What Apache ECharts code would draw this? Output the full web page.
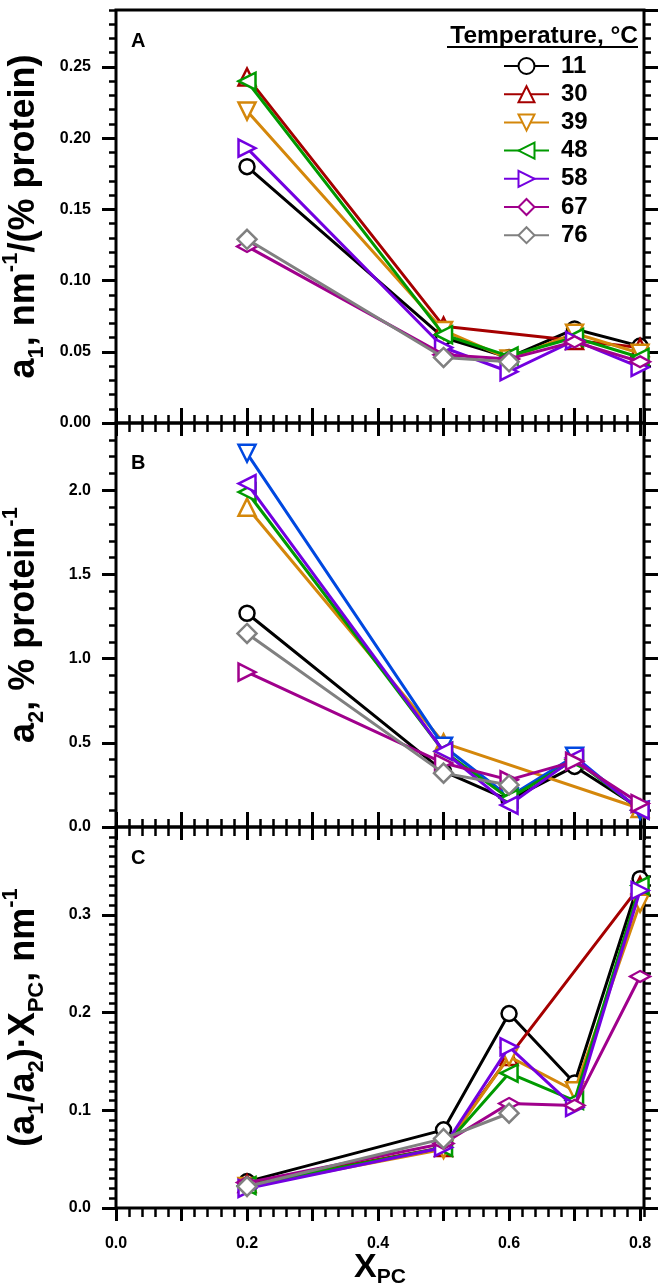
<!DOCTYPE html>
<html lang="en">
<head>
<meta charset="UTF-8">
<title>a1, a2 vs XPC</title>
<style>
  html, body { margin: 0; padding: 0; background: #fff; }
  #container { width: 661px; height: 1288px; }
</style>
</head>
<body>
<div id="container"></div>
<script src="https://cdn.jsdelivr.net/npm/echarts@6/dist/echarts.min.js"></script>
<script>
    var FONT = '"Liberation Sans", Arial, Helvetica, sans-serif';

    var xValues = [0.2, 0.5, 0.6, 0.7, 0.8];
    var temperatures = ['11', '30', '39', '48', '58', '67', '76'];

    // panel A: a1, nm^-1/(% protein)  (one row per temperature)
    var a1Values = [
        [0.180, 0.060, 0.046, 0.066, 0.054],
        [0.243, 0.068, null, 0.058, 0.053],
        [0.219, 0.065, 0.045, 0.063, 0.049],
        [0.240, 0.062, 0.047, 0.060, 0.046],
        [0.193, 0.053, 0.036, 0.058, 0.039],
        [0.124, 0.048, 0.045, 0.057, 0.043],
        [0.129, 0.046, 0.043, null, null]
    ];
    // panel B: a2, % protein^-1
    var a2Values = [
        [1.27, 0.33, 0.16, 0.36, 0.11],
        [1.90, 0.50, null, null, 0.11],
        [2.22, 0.48, 0.18, 0.42, 0.10],
        [1.99, 0.45, 0.17, 0.40, 0.10],
        [2.04, 0.45, 0.13, 0.41, 0.10],
        [0.92, 0.38, 0.28, 0.39, 0.14],
        [1.15, 0.32, 0.25, null, null]
    ];
    // panel C: (a1/a2)*XPC, nm^-1
    var ratioValues = [
        [0.027, 0.080, 0.199, 0.128, 0.337],
        [0.025, 0.062, 0.155, null, 0.330],
        [0.022, 0.060, 0.155, 0.120, 0.312],
        [0.023, 0.062, 0.138, 0.110, 0.330],
        [0.020, 0.062, 0.165, 0.103, 0.325],
        [0.026, 0.066, 0.107, 0.105, 0.237],
        [0.022, 0.071, 0.097, null, null]
    ];

    var colorsA = ['#000000', '#a50000', '#d4870b', '#009a00', '#7300e0', '#a0008c', '#808080'];
    var colorsB = ['#000000', '#d4870b', '#0048e0', '#009a00', '#7300e0', '#a0008c', '#808080'];
    var colorsC = colorsA;
    var symbolsA = ['circle', 'up', 'down', 'left', 'right', 'thin', 'diamond'];
    var symbolsB = ['circle', 'up', 'down', 'left', 'left', 'right', 'diamond'];
    var symbolsC = symbolsA;

    var shapes = {
        circle: { symbol: 'circle', rotate: 0, size: 15 },
        up: { symbol: 'triangle', rotate: 0, size: 17 },
        down: { symbol: 'triangle', rotate: 180, size: 17 },
        left: { symbol: 'triangle', rotate: 90, size: 17 },
        right: { symbol: 'triangle', rotate: -90, size: 17 },
        thin: { symbol: 'diamond', rotate: 0, size: [20, 11] },
        diamond: { symbol: 'diamond', rotate: 0, size: 19 }
    };

    var nameRich = {
        m: { fontFamily: FONT, fontWeight: 'bold', fontSize: 36, lineHeight: 48, color: '#000' },
        sub: { fontFamily: FONT, fontWeight: 'bold', fontSize: 22, lineHeight: 28, verticalAlign: 'bottom', color: '#000' },
        sup: { fontFamily: FONT, fontWeight: 'bold', fontSize: 22, lineHeight: 24, verticalAlign: 'top', color: '#000' }
    };

    var panels = [
        { top: 10, height: 413, ymax: 0.29, major: 0.05, minor: 0.01, digits: 2, values: a1Values,
          colors: colorsA, symbols: symbolsA,
          name: '{m|a}{sub|1}{m|, nm}{sup|-1}{m|/(% protein)}' },
        { top: 423, height: 404, ymax: 2.4, major: 0.5, minor: 0.1, digits: 1, values: a2Values,
          colors: colorsB, symbols: symbolsB,
          name: '{m|a}{sub|2}{m|, % protein}{sup|-1}' },
        { top: 827, height: 381, ymax: 0.39, major: 0.1, minor: 0.01, digits: 1, values: ratioValues,
          colors: colorsC, symbols: symbolsC,
          name: '{m|(a}{sub|1}{m|/a}{sub|2}{m|)·X}{sub|PC}{m|, nm}{sup|-1}' }
    ];

    var XMAX = 0.806;

    function blankLabel() {
        return { show: true, color: 'rgba(0,0,0,0)', fontSize: 8, formatter: function () { return ''; } };
    }

    // tick-only axes (major and minor ticks are separate axes)
    function xTicks(gi, pos, step, len, width) {
        return {
            type: 'value', gridIndex: gi, position: pos, min: 0, max: XMAX, interval: step,
            axisLine: { show: false, onZero: false },
            splitLine: { show: false },
            axisTick: { show: true, inside: false, length: len, lineStyle: { color: '#000', width: width } },
            axisLabel: blankLabel()
        };
    }

    function yTicks(gi, pos, p, step, len, width) {
        return {
            type: 'value', gridIndex: gi, position: pos, min: 0, max: p.ymax, interval: step,
            axisLine: { show: false, onZero: false },
            splitLine: { show: false },
            axisTick: { show: true, inside: false, length: len, lineStyle: { color: '#000', width: width } },
            axisLabel: blankLabel()
        };
    }

    var grids = [], xAxes = [], yAxes = [], series = [];

    panels.forEach(function (p, pi) {
        grids.push({
            left: 116, right: 17, top: p.top, height: p.height,
            show: true, borderColor: '#000', borderWidth: 3,
            outerBoundsMode: 'none'
        });

        var xMain = xAxes.length;
        var xm = xTicks(pi, 'bottom', 0.1, 13, 3);
        if (pi === 2) {
            xm.axisLabel = {
                show: true, margin: 28, color: '#000', fontFamily: FONT, fontWeight: 'bold', fontSize: 16,
                showMaxLabel: false,
                formatter: function (v) {
                    var k = Math.round(v * 10);
                    if (Math.abs(v * 10 - k) > 1e-6 || k % 2) return '';
                    return v.toFixed(1);
                }
            };
            xm.name = '{m|X}{sub|PC}';
            xm.nameLocation = 'middle';
            xm.nameGap = 40;
            xm.nameMoveOverlap = false;
            xm.nameTextStyle = {
                rich: {
                    m: { fontFamily: FONT, fontWeight: 'bold', fontSize: 34, lineHeight: 40, color: '#000' },
                    sub: { fontFamily: FONT, fontWeight: 'bold', fontSize: 21, lineHeight: 18, verticalAlign: 'bottom', color: '#000' }
                }
            };
        }
        xAxes.push(xm);
        xAxes.push(xTicks(pi, 'bottom', 0.02, 9, 2.5));
        if (pi > 0) {
            xAxes.push(xTicks(pi, 'top', 0.1, 15, 3));
            xAxes.push(xTicks(pi, 'top', 0.02, 8, 2.5));
        }

        var yMain = yAxes.length;
        var ym = yTicks(pi, 'left', p, p.major, 14, 3);
        ym.axisLabel = {
            show: true, margin: 25, color: '#000', fontFamily: FONT, fontWeight: 'bold', fontSize: 16,
            showMaxLabel: false,
            formatter: function (v) {
                if (Math.abs(v - p.ymax) < 1e-9) return '';
                return v.toFixed(p.digits);
            }
        };
        ym.name = p.name;
        ym.nameLocation = 'middle';
        ym.nameGap = 68;
        ym.nameRotate = 90;
        ym.nameMoveOverlap = false;
        ym.nameTextStyle = { rich: nameRich };
        yAxes.push(ym);
        yAxes.push(yTicks(pi, 'left', p, p.minor, 7, 2.5));
        yAxes.push(yTicks(pi, 'right', p, p.major, 14, 3));
        yAxes.push(yTicks(pi, 'right', p, p.minor, 7, 2.5));

        temperatures.forEach(function (t, si) {
            var pts = [];
            xValues.forEach(function (x, k) {
                var v = p.values[si][k];
                if (v !== null) pts.push([x, v]);
            });
            var shape = shapes[p.symbols[si]];
            var c = p.colors[si];
            series.push({
                type: 'line', name: t, xAxisIndex: xMain, yAxisIndex: yMain, data: pts,
                symbol: shape.symbol, symbolRotate: shape.rotate, symbolSize: shape.size,
                showAllSymbol: true,
                lineStyle: { color: c, width: 3 },
                itemStyle: { color: '#fff', borderColor: c, borderWidth: 2.5 },
                emphasis: { disabled: true },
                z: 2 + si
            });
        });
    });

    var option = {
        animation: false,
        backgroundColor: '#fff',
        grid: grids,
        xAxis: xAxes,
        yAxis: yAxes,
        series: series,
        legend: {
            data: temperatures, orient: 'vertical', left: 503, top: 54, padding: 0,
            itemWidth: 45, itemHeight: 20, itemGap: 4.2, selectedMode: false,
            textStyle: { fontFamily: FONT, fontWeight: 'bold', fontSize: 24, lineHeight: 24, color: '#000', padding: [0, 0, 0, 7] }
        },
        graphic: [
            { type: 'text', left: 131, top: 31, style: { text: 'A', font: 'bold 20px ' + FONT, fill: '#000' } },
            { type: 'text', left: 131, top: 453, style: { text: 'B', font: 'bold 20px ' + FONT, fill: '#000' } },
            { type: 'text', left: 131, top: 848, style: { text: 'C', font: 'bold 20px ' + FONT, fill: '#000' } },
            { type: 'text', right: 23, top: 24, style: { text: 'Temperature, °C', font: 'bold 24.5px ' + FONT, fill: '#000' } },
            { type: 'rect', shape: { x: 447, y: 46, width: 191, height: 2 }, style: { fill: '#000' } }
        ]
    };

    var myChart = echarts.init(document.getElementById('container'));
    myChart.setOption(option);
</script>
</body>
</html>
